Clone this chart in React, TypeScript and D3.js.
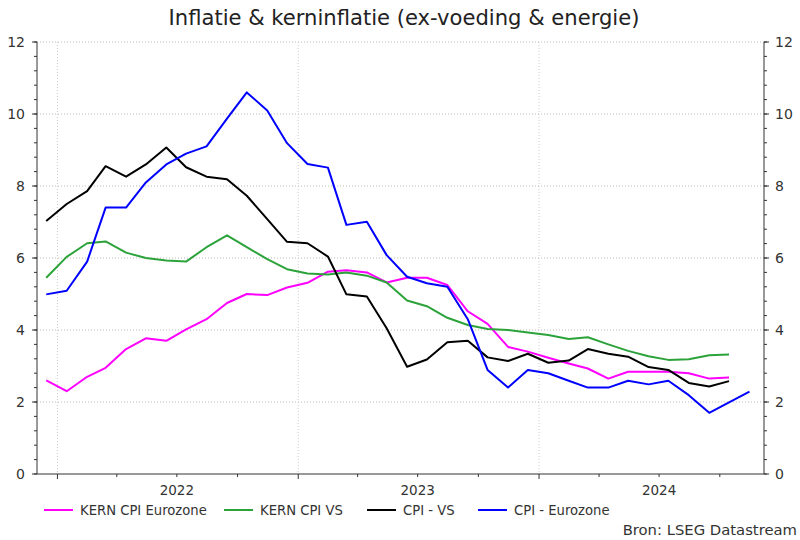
import * as d3 from 'd3';

// maanden (midden van de maand wordt geplot)
const months = [
  '2021-12',
  '2022-01', '2022-02', '2022-03', '2022-04', '2022-05', '2022-06',
  '2022-07', '2022-08', '2022-09', '2022-10', '2022-11', '2022-12',
  '2023-01', '2023-02', '2023-03', '2023-04', '2023-05', '2023-06',
  '2023-07', '2023-08', '2023-09', '2023-10', '2023-11', '2023-12',
  '2024-01', '2024-02', '2024-03', '2024-04', '2024-05', '2024-06',
  '2024-07', '2024-08', '2024-09', '2024-10', '2024-11',
];

const kernCpiEurozone = [
  2.6, 2.3, 2.7, 2.95, 3.47, 3.77, 3.7, 4.02, 4.3, 4.75, 5.0, 4.97,
  5.18, 5.31, 5.62, 5.66, 5.6, 5.32, 5.45, 5.45, 5.25, 4.52, 4.17, 3.53,
  3.4, 3.23, 3.07, 2.93, 2.65, 2.84, 2.84, 2.84, 2.8, 2.65, 2.68,
];

const kernCpiVS = [
  5.45, 6.03, 6.41, 6.46, 6.15, 6.0, 5.93, 5.9, 6.3, 6.63, 6.3, 5.97,
  5.69, 5.57, 5.54, 5.6, 5.51, 5.32, 4.82, 4.66, 4.34, 4.14, 4.03, 4.0,
  3.93, 3.86, 3.75, 3.8, 3.6, 3.42, 3.27, 3.17, 3.19, 3.3, 3.32,
];

const cpiVS = [
  7.03, 7.5, 7.86, 8.55, 8.26, 8.6, 9.07, 8.52, 8.26, 8.19, 7.73, 7.08,
  6.45, 6.41, 6.04, 4.99, 4.93, 4.05, 2.98, 3.18, 3.66, 3.7, 3.24, 3.14,
  3.34, 3.09, 3.15, 3.47, 3.34, 3.26, 2.97, 2.89, 2.53, 2.43, 2.58,
];

const cpiEurozone = [
  4.99, 5.09, 5.9, 7.4, 7.4, 8.1, 8.6, 8.9, 9.1, 9.87, 10.6, 10.1,
  9.19, 8.61, 8.51, 6.92, 7.01, 6.08, 5.48, 5.3, 5.2, 4.3, 2.89, 2.4,
  2.89, 2.8, 2.59, 2.4, 2.4, 2.59, 2.49, 2.59, 2.19, 1.7, 1.99, 2.29,
];

const yTicks = [0, 2, 4, 6, 8, 10, 12];
const yearLabels = ['2022', '2023', '2024'];

const series = [
  { name: 'KERN CPI Eurozone', values: kernCpiEurozone, color: '#ff00ff' },
  { name: 'KERN CPI VS', values: kernCpiVS, color: '#2ca33a' },
  { name: 'CPI - VS', values: cpiVS, color: '#000000' },
  { name: 'CPI - Eurozone', values: cpiEurozone, color: '#0000ff' },
];

const font = '"DejaVu Sans", Verdana, sans-serif';

export default function App() {
  const width = 800;
  const height = 540;
  const left = 37;
  const right = 764;
  const top = 42;
  const bottom = 474;

  const parse = d3.timeParse('%Y-%m');
  const dates = months.map((m) => d3.timeDay.offset(parse(m)!, 14));

  const x = d3
    .scaleTime()
    .domain([new Date(2021, 11, 1), new Date(2024, 11, 7)])
    .range([left, right]);
  const y = d3.scaleLinear().domain([0, 12]).range([bottom, top]);

  const line = d3
    .line<number>()
    .x((_, i) => x(dates[i]))
    .y((d) => y(d));

  const quarterTicks = x.ticks(d3.timeMonth.every(3)!);
  const yearTicks = x.ticks(d3.timeYear.every(1)!);
  const minorY = d3.range(0, 12.001, 0.4);

  // legenda posities
  const legendX = [44, 224, 367, 478];

  return (
    <svg
      width={width}
      height={height}
      style={{ position: 'absolute', left: 0, top: 0, background: '#fff' }}
      fontFamily={font}
    >
      <text
        x={404}
        y={25}
        textAnchor="middle"
        fontSize={21.1}
        fill="#222"
      >
        Inflatie &amp; kerninflatie (ex-voeding &amp; energie)
      </text>

      {/* grid */}
      {yTicks.slice(1).map((t) => (
        <line
          key={'gy' + t}
          x1={left}
          x2={right}
          y1={y(t)}
          y2={y(t)}
          stroke="#bbb"
          strokeDasharray="1,2"
        />
      ))}
      {yearTicks.map((d) => (
        <line
          key={'gx' + d.getTime()}
          x1={x(d)}
          x2={x(d)}
          y1={top}
          y2={bottom}
          stroke="#ccc"
          strokeDasharray="1,2"
        />
      ))}

      {/* y assen */}
      <line x1={left} x2={left} y1={top} y2={bottom} stroke="#333" />
      <line x1={right} x2={right} y1={top} y2={bottom} stroke="#333" />
      {minorY.map((t) => (
        <g key={'my' + t}>
          <line x1={left - 3} x2={left} y1={y(t)} y2={y(t)} stroke="#333" />
          <line x1={right} x2={right + 3} y1={y(t)} y2={y(t)} stroke="#333" />
        </g>
      ))}
      {yTicks.map((t) => (
        <g key={'yt' + t}>
          <line x1={left - 5} x2={left} y1={y(t)} y2={y(t)} stroke="#333" />
          <line x1={right} x2={right + 5} y1={y(t)} y2={y(t)} stroke="#333" />
          <text
            x={25}
            y={y(t) + 5}
            textAnchor="end"
            fontSize={14}
            fill="#333"
          >
            {t}
          </text>
          <text x={775} y={y(t) + 5} fontSize={14} fill="#333">
            {t}
          </text>
        </g>
      ))}

      {/* x as */}
      <line x1={left} x2={right} y1={bottom} y2={bottom} stroke="#333" />
      {quarterTicks.map((d) => (
        <line
          key={'xt' + d.getTime()}
          x1={x(d)}
          x2={x(d)}
          y1={bottom}
          y2={bottom + (d.getMonth() === 0 ? 5 : 3)}
          stroke="#333"
        />
      ))}
      {yearLabels.map((yr) => (
        <text
          key={yr}
          x={x(new Date(+yr, 6, 1))}
          y={495}
          textAnchor="middle"
          fontSize={13.5}
          fill="#333"
        >
          {yr}
        </text>
      ))}

      {/* lijnen */}
      {series.map((s) => (
        <path
          key={s.name}
          d={line(s.values)!}
          fill="none"
          stroke={s.color}
          strokeWidth={2}
          strokeLinejoin="round"
        />
      ))}

      {/* legenda */}
      {series.map((s, i) => (
        <g key={'lg' + s.name}>
          <line
            x1={legendX[i]}
            x2={legendX[i] + 29}
            y1={510}
            y2={510}
            stroke={s.color}
            strokeWidth={2}
          />
          <text x={legendX[i] + 36} y={514.5} fontSize={13.2} fill="#333">
            {s.name}
          </text>
        </g>
      ))}

      <text x={797} y={535} textAnchor="end" fontSize={14.8} fill="#333">
        Bron: LSEG Datastream
      </text>
    </svg>
  );
}
